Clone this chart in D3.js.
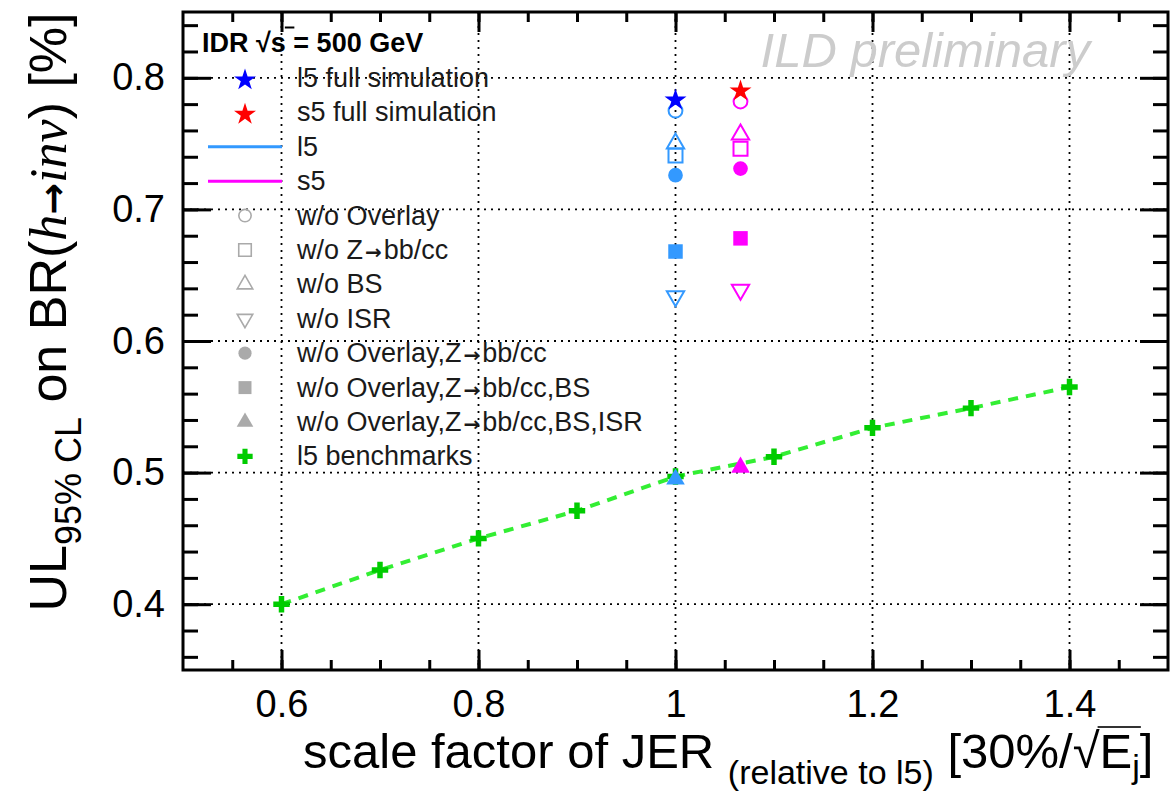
<!DOCTYPE html>
<html lang="en">
<head>
<meta charset="UTF-8">
<title>UL BR(h-&gt;inv) vs JER scale factor</title>
<script src="https://d3js.org/d3.v7.min.js"></script>
<style>
    body { margin: 0; background: #fff; }
    text { font-family: "Liberation Sans", Arial, sans-serif; }
</style>
</head>
<body>
<div class="canvas"></div>
<script>
    // benchmark curve (l5, JER scaled)
    const benchX = [0.6, 0.7, 0.8, 0.9, 1.0, 1.1, 1.2, 1.3, 1.4];
    const benchY = [0.400, 0.426, 0.450, 0.471, 0.497, 0.512, 0.534, 0.549, 0.565];

    // detector models: l5 at 1, s5 a bit worse JER
    const modelX = [1.0, 1.066];
    const fullSim = [0.783, 0.790];
    const woOverlay = [0.775, 0.782];
    const woZbb = [0.741, 0.746];
    const woBS = [0.750, 0.757];
    const woISR = [0.634, 0.639];
    const woOvZ = [0.726, 0.731];
    const woOvZBS = [0.668, 0.678];
    const woOvZBSISR = [0.495, 0.504];

    const xMajor = [0.6, 0.8, 1.0, 1.2, 1.4];
    const yMajor = [0.4, 0.5, 0.6, 0.7, 0.8];

    const legendLabels = ["l5 full simulation", "s5 full simulation", "l5", "s5", "w/o Overlay",
        "w/o Z\u2192bb/cc", "w/o BS", "w/o ISR", "w/o Overlay,Z\u2192bb/cc",
        "w/o Overlay,Z\u2192bb/cc,BS", "w/o Overlay,Z\u2192bb/cc,BS,ISR", "l5 benchmarks"];

    const l5Color = "#3399ff", s5Color = "#ff00ff";
    const starColors = ["#0000ff", "#ff0000"];
    const modelColors = [l5Color, s5Color];
    const grey = "#aaaaaa", green = "#00cc00";

    let margin = { top: 12, right: 8, bottom: 123, left: 183 };
    let width = 1176 - margin.left - margin.right;
    let height = 793 - margin.top - margin.bottom;

    let svg = d3.select(".canvas").append("svg")
        .attr("width", 1176).attr("height", 793);
    let canvas = svg.append("g")
        .attr("transform", "translate(" + margin.left + "," + margin.top + ")");

    let x = d3.scaleLinear().domain([0.5, 1.5]).range([0, width]);
    let y = d3.scaleLinear().domain([0.35, 0.85]).range([height, 0]);

    // grid
    let grid = canvas.append("g").attr("stroke", "#000").attr("stroke-width", 1.8)
        .attr("stroke-dasharray", "2,5");
    grid.selectAll(".gx").data(xMajor).enter().append("line")
        .attr("x1", d => x(d)).attr("x2", d => x(d)).attr("y1", 0).attr("y2", height);
    grid.selectAll(".gy").data(yMajor).enter().append("line")
        .attr("y1", d => y(d)).attr("y2", d => y(d)).attr("x1", 0).attr("x2", width);

    // axes (ticks inside the frame on all four sides)
    const xMinor = d3.range(0.55, 1.5, 0.05).map(v => +v.toFixed(2));
    const yMinor = d3.range(0.36, 0.85, 0.02).map(v => +v.toFixed(2));
    function styleAxis(g) {
        g.select(".domain").remove();
        g.selectAll("line").attr("stroke-width", 3);
        g.attr("font-family", "Liberation Sans, Arial, sans-serif").attr("font-size", 38);
    }
    canvas.append("g").attr("transform", "translate(0," + height + ")")
        .call(d3.axisBottom(x).tickValues(xMinor).tickSizeInner(-10).tickFormat("")).call(styleAxis);
    canvas.append("g").attr("transform", "translate(0," + height + ")")
        .call(d3.axisBottom(x).tickValues(xMajor).tickSizeInner(-20).tickPadding(20)
            .tickFormat(d => d3.format("")(d))).call(styleAxis);
    canvas.append("g")
        .call(d3.axisTop(x).tickValues(xMinor).tickSizeInner(-10).tickFormat("")).call(styleAxis);
    canvas.append("g")
        .call(d3.axisTop(x).tickValues(xMajor).tickSizeInner(-20).tickFormat("")).call(styleAxis);
    canvas.append("g")
        .call(d3.axisLeft(y).tickValues(yMinor).tickSizeInner(-15).tickFormat("")).call(styleAxis);
    canvas.append("g")
        .call(d3.axisLeft(y).tickValues(yMajor).tickSizeInner(-28).tickPadding(18)
            .tickFormat(d3.format(".1f"))).call(styleAxis);
    canvas.append("g").attr("transform", "translate(" + width + ",0)")
        .call(d3.axisRight(y).tickValues(yMinor).tickSizeInner(-15).tickFormat("")).call(styleAxis);
    canvas.append("g").attr("transform", "translate(" + width + ",0)")
        .call(d3.axisRight(y).tickValues(yMajor).tickSizeInner(-28).tickFormat("")).call(styleAxis);

    canvas.append("rect").attr("width", width).attr("height", height)
        .attr("fill", "none").attr("stroke", "#000").attr("stroke-width", 3);

    // watermark
    canvas.append("text").attr("x", 1090 - margin.left).attr("y", 55)
        .attr("text-anchor", "end").attr("font-size", 49).attr("font-style", "italic")
        .attr("fill", "#cccccc").text("ILD preliminary");

    // benchmark dashed line + crosses
    let bench = benchX.map((d, i) => ({ x: d, y: benchY[i] }));
    canvas.append("path").datum(bench)
        .attr("fill", "none").attr("stroke", "#33ee33").attr("stroke-width", 4)
        .attr("stroke-dasharray", "10,8")
        .attr("d", d3.line().x(d => x(d.x)).y(d => y(d.y)));

    const sym = (type, size) => d3.symbol().type(type).size(size)();
    const triDown = "rotate(180)";

    canvas.selectAll(".bench").data(bench).enter().append("path")
        .attr("d", sym(d3.symbolCross, 150))
        .attr("transform", d => "translate(" + x(d.x) + "," + y(d.y) + ")")
        .attr("fill", green);

    // model points, drawn per variation
    const series = [
        { v: woOverlay, type: d3.symbolCircle, size: 150, open: true },
        { v: woZbb, type: d3.symbolSquare, size: 196, open: true },
        { v: woBS, type: d3.symbolTriangle, size: 130, open: true },
        { v: woISR, type: d3.symbolTriangle, size: 130, open: true, rot: triDown },
        { v: woOvZ, type: d3.symbolCircle, size: 170, open: false },
        { v: woOvZBS, type: d3.symbolSquare, size: 210, open: false },
        { v: woOvZBSISR, type: d3.symbolTriangle, size: 150, open: false }
    ];
    series.forEach(s => {
        canvas.selectAll(null).data(s.v).enter().append("path")
            .attr("d", sym(s.type, s.size))
            .attr("transform", (d, i) => "translate(" + x(modelX[i]) + "," + y(d) + ")" + (s.rot ? s.rot : ""))
            .attr("fill", (d, i) => s.open ? "none" : modelColors[i])
            .attr("stroke", (d, i) => modelColors[i])
            .attr("stroke-width", s.open ? 2 : 0);
    });
    canvas.selectAll(".star").data(fullSim).enter().append("path")
        .attr("d", sym(d3.symbolStar, 150))
        .attr("transform", (d, i) => "translate(" + x(modelX[i]) + "," + y(d) + ")")
        .attr("fill", (d, i) => starColors[i]);

    // legend
    let legend = svg.append("g");
    let rowY = i => 78 + i * 34.4;
    let mx = 245;
    legendLabels.forEach((lab, i) => {
        let t = legend.append("text").attr("x", 297).attr("y", rowY(i) + 9)
            .attr("font-size", 27).attr("fill", "#1a1a1a");
        lab.split("\u2192").forEach((part, k) => {
            if (k > 0) t.append("tspan").attr("font-family", "DejaVu Sans, sans-serif")
                .attr("font-weight", "bold").attr("font-size", 20).attr("dx", 2).text("\u2192");
            t.append("tspan").attr("dx", k > 0 ? 2 : 0).text(part);
        });
    });
    legend.append("path").attr("d", sym(d3.symbolStar, 150))
        .attr("transform", "translate(" + mx + "," + (rowY(0) + 2) + ")").attr("fill", starColors[0]);
    legend.append("path").attr("d", sym(d3.symbolStar, 150))
        .attr("transform", "translate(" + mx + "," + (rowY(1) + 2) + ")").attr("fill", starColors[1]);
    [l5Color, s5Color].forEach((c, k) => {
        legend.append("line").attr("x1", 208).attr("x2", 282)
            .attr("y1", rowY(2 + k)).attr("y2", rowY(2 + k))
            .attr("stroke", c).attr("stroke-width", 3);
    });
    series.forEach((s, k) => {
        legend.append("path").attr("d", sym(s.type, s.size * 0.8))
            .attr("transform", "translate(" + mx + "," + rowY(4 + k) + ")" + (s.rot ? s.rot : ""))
            .attr("fill", s.open ? "none" : grey)
            .attr("stroke", grey).attr("stroke-width", s.open ? 1.6 : 0);
    });
    legend.append("path").attr("d", sym(d3.symbolCross, 130))
        .attr("transform", "translate(" + mx + "," + rowY(11) + ")").attr("fill", green);

    // header  IDR  sqrt(s) = 500 GeV
    let head = svg.append("text").attr("x", 202).attr("y", 52)
        .attr("font-size", 27).attr("font-weight", "bold");
    head.append("tspan").text("IDR  ");
    head.append("tspan").text("\u221a");
    head.append("tspan").text("s = 500 GeV");
    let hn = head.node();
    let sIdx = "IDR  \u221a".length;
    let hx0 = hn.getStartPositionOfChar(sIdx).x, hx1 = hn.getEndPositionOfChar(sIdx).x;
    svg.append("line").attr("x1", hx0 - 1).attr("x2", hx1 + 1).attr("y1", 27.5).attr("y2", 27.5)
        .attr("stroke", "#000").attr("stroke-width", 2);

    // x axis title
    let xt = svg.append("text").attr("x", 303).attr("y", 768).attr("font-size", 49);
    xt.append("tspan").text("scale factor of JER ");
    xt.append("tspan").attr("font-size", 34).attr("dy", 16).text("(relative to l5)");
    xt.append("tspan").attr("dy", -16).text(" [30%/\u221aE");
    xt.append("tspan").attr("font-size", 34).attr("dy", 10).text("j");
    xt.append("tspan").attr("dy", -10).text("]");
    let xn = xt.node();
    let full = "scale factor of JER (relative to l5) [30%/\u221aE";
    let ex0 = xn.getEndPositionOfChar(full.length - 2).x;
    let ex1 = xn.getEndPositionOfChar(full.length).x;
    svg.append("line").attr("x1", ex0 - 2).attr("x2", ex1 + 1).attr("y1", 727).attr("y2", 727)
        .attr("stroke", "#333").attr("stroke-width", 2);

    // y axis title
    let yt = svg.append("text").attr("transform", "translate(66,312) rotate(-90)")
        .attr("text-anchor", "middle").attr("font-size", 52);
    yt.append("tspan").text("UL");
    yt.append("tspan").attr("font-size", 36).attr("dy", 15).text("95% CL");
    yt.append("tspan").attr("dy", -15).text(" on BR(");
    yt.append("tspan").attr("font-family", "Liberation Serif, serif").attr("font-style", "italic").text("h");
    yt.append("tspan").attr("font-family", "DejaVu Sans, sans-serif").attr("font-weight", "bold").attr("font-size", 38).text("\u2192");
    yt.append("tspan").attr("font-family", "Liberation Serif, serif").attr("font-style", "italic").text("inv");
    yt.append("tspan").text(") [%]");
</script>
</body>
</html>
